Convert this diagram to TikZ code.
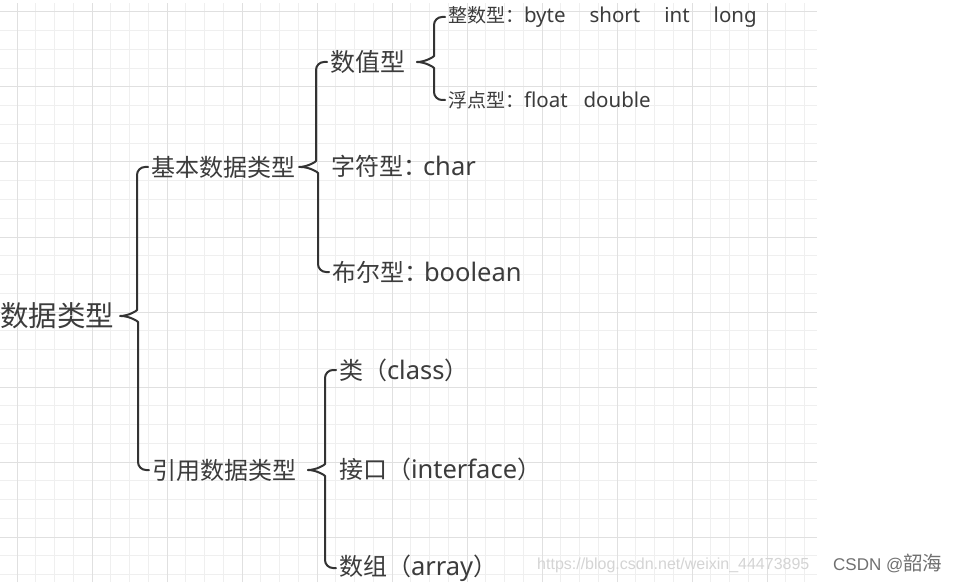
\documentclass[tikz,border=0pt]{standalone}
\usepackage{fontspec}
\setmainfont{Noto Sans}
\newfontfamily\zh{Noto Sans CJK SC}
\newfontfamily\wmfont{Liberation Sans}
\usetikzlibrary{calc}

\definecolor{txt}{HTML}{3C3C3C}
\definecolor{ln}{HTML}{333333}
\definecolor{gridmin}{HTML}{EFEFEF}
\definecolor{gridmaj}{HTML}{E0E0E0}
\definecolor{wmk}{HTML}{D4D4D4}
\definecolor{sig}{HTML}{707070}

% chinese parts inside the latin labels
\newcommand\zm[1]{{\zh\fontsize{24}{28}\selectfont #1}}
\newcommand\zs[1]{{\zh\fontsize{19}{22}\selectfont #1}}

\begin{document}
\begin{tikzpicture}[x=1pt,y=1pt,
  lbl/.style={inner sep=3pt,outer sep=0pt,text=txt,anchor=west},
  big/.style={lbl,font=\fontsize{28.5}{32}\selectfont},
  mid/.style={lbl,font=\fontsize{25.5}{28}\selectfont},
  sml/.style={lbl,font=\fontsize{20.5}{22}\selectfont},
  brk/.style={draw=ln,line width=2pt,rounded corners=8pt,line cap=round},
  gmin/.style={draw=gridmin,line width=1pt},
  gmaj/.style={draw=gridmaj,line width=1pt}
]
\fill[white] (0,0) rectangle (960,582);
\useasboundingbox (0,0) rectangle (960,582);

% paper grid
\foreach \i in {0,...,42} \draw[gmin] (17+\i*18.75,0) -- (17+\i*18.75,579);
\foreach \k in {0,...,30} \draw[gmin] (0,570-\k*18.75) -- (817,570-\k*18.75);
\foreach \i in {0,...,10} \draw[gmaj] (17+\i*75,0) -- (17+\i*75,579);
\foreach \k in {0,...,7} \draw[gmaj] (0,570-\k*75) -- (817,570-\k*75);

% tree
\node[big,anchor=east] (root) at (117,266) {\zh 数据类型};

\node[mid] (n1) at (148,415) {\zm{基本数据类型}};
\node[mid] (n2) at (149,112) {\zm{引用数据类型}};

\node[mid] (m1) at (327,520) {{\zh\fontsize{25}{29}\selectfont 数值型}};
\node[mid] (m2) at (328,416) {\zm{字符型：}\hspace{-4pt}char};
\node[mid] (m3) at (329,310) {\zm{布尔型：}\hspace{-4pt}boolean};

\node[sml] (s1) at (445,565)
  {\zs{整数型：}byte\hspace{24pt}short\hspace{24pt}int\hspace{24pt}long};
\node[sml] (s2) at (445,482) {\zs{浮点型：}float\hspace{16pt}double};

\node[mid] (r1) at (336,212) {\zm{类（}class\zm{）}};
\node[mid] (r2) at (336,113) {\zm{接口（}interface\zm{）}};
\node[mid] (r3) at (336,14) {\zm{数组（}array\zm{）}};

% braces: tip at the parent, ends at first and last child
\foreach \p/\a/\b in {root/n1/n2,n1/m1/m3,m1/s1/s2,n2/r1/r3}{
  \draw[brk] ($(\a.west|-\p.east)+(-28,0)$) to[out=0,in=-90] ++(17,14) |- (\a.west);
  \draw[brk] ($(\b.west|-\p.east)+(-28,0)$) to[out=0,in=90] ++(17,-14) |- (\b.west);
}

% watermark
\node[anchor=west,inner sep=0pt,text=wmk,font=\wmfont\fontsize{16}{18}\selectfont] (url)
  at (537,17) {https://blog.csdn.net/weixin\_44473895};
\node[anchor=west,inner sep=0pt,text=sig,font=\wmfont\fontsize{17}{20}\selectfont] (csdn)
  at (833,19) {CSDN @{\zh\fontsize{19.5}{22}\selectfont 韶海}};
\end{tikzpicture}
\end{document}
